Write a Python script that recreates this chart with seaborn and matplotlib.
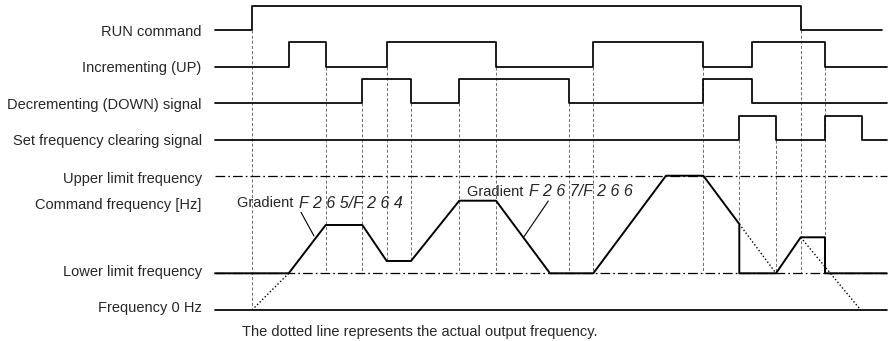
import seaborn as sns
import pandas as pd
from matplotlib import pyplot as plt

# time axis is in drawing units (roughly pixels), y grows downwards
t_start = 215
t_end = 886.7

# logic signals: label, low level, rising/falling edge times (first edge goes high)
signal_labels = ["RUN command", "Incrementing (UP)",
                 "Decrementing (DOWN) signal", "Set frequency clearing signal"]
signal_low = [30, 66.7, 103.3, 140]
signal_end = [881.7, t_end, t_end, t_end]
run_edges = [252, 800.7]
up_edges = [288.7, 325.7, 386.7, 496, 593.3, 703.3, 752, 825]
down_edges = [362.3, 411, 459.3, 569, 703.3, 752]
clear_edges = [739.3, 776, 825, 862]
pulse_height = 24.3

# frequency section
level_labels = ["Upper limit frequency", "Command frequency [Hz]",
                "Lower limit frequency", "Frequency 0 Hz"]
level_label_y = [179, 205, 271.7, 308.3]
upper_y = 175.7
lower_y = 273.3
zero_y = 310

# command frequency trace
freq_t = [215, 288.7, 325.7, 362.3, 386.7, 411, 459.3, 496, 550, 593.3,
          666, 703.3, 739.3, 739.3, 776, 800.7, 825, 825, t_end]
freq_y = [273.3, 273.3, 225, 225, 261, 261, 200.7, 200.7, 273.3, 273.3,
          175.7, 175.7, 224, 273.3, 273.3, 237.3, 237.3, 273.3, 273.3]

# actual output frequency (dotted pieces)
actual_t = [[252, 288.7], [739.3, 776], [800.7, 860.7]]
actual_y = [[310, 273.3], [224, 273.3], [237.3, 310]]

# dashed timing guides
guide_x = [252, 325.7, 362.3, 386.7, 411, 459.3, 496, 569, 593.3,
           703.3, 739.3, 776, 800.7, 825]
guide_top = [30, 66.7, 103.3, 66.7, 103.3, 103.3, 66.7, 103.3, 66.7,
             66.7, 140, 140, 30, 66.7]
guide_bottom = [308, 273.3, 273.3, 261, 261, 273.3, 273.3, 273.3, 273.3,
                273.3, 273.3, 273.3, 273.3, 273.3]

gradient_texts = ["F 2 6 5/F 2 6 4", "F 2 6 7/F 2 6 6"]
gradient_pos = [(236.7, 203.3), (466.7, 191.7)]
leader_lines = [((301, 212.3), (314, 236)), ((548.3, 201), (524, 236.7))]

footnote = "The dotted line represents the actual output frequency."

plt.rcParams["lines.scale_dashes"] = False
sns.set_style("white")
plt.rcParams["font.family"] = ["Liberation Sans", "DejaVu Sans"]

fig = plt.figure(figsize=(8.88, 3.41), dpi=100)
ax = fig.add_axes([0, 0, 1, 1])
ax.set_xlim(0, 888)
ax.set_ylim(341, 0)
ax.axis("off")

lw_sig = 1.25
fs = 10.5


def step_trace(edges, low, end):
    xs, ys = [t_start], [low]
    level = low
    for e in edges:
        new = low - pulse_height if level == low else low
        xs += [e, e]
        ys += [level, new]
        level = new
    xs.append(end)
    ys.append(level)
    return pd.DataFrame({"t": xs, "y": ys})


# guides first so they sit behind
for x, y0, y1 in zip(guide_x, guide_top, guide_bottom):
    ax.plot([x, x], [y0, y1], color="#555555", lw=0.6, ls=(0, (2.2, 1.5)), zorder=1)

all_edges = [run_edges, up_edges, down_edges, clear_edges]
for lab, low, edges, end in zip(signal_labels, signal_low, all_edges, signal_end):
    df = step_trace(edges, low, end)
    sns.lineplot(data=df, x="t", y="y", sort=False, estimator=None,
                 color="black", lw=lw_sig, ax=ax, zorder=3)
    ax.text(201.7, low + 1.5, lab, ha="right", va="center", fontsize=fs)

for lab, y in zip(level_labels, level_label_y):
    ax.text(201.7, y, lab, ha="right", va="center", fontsize=fs)

# limit lines
dashdot = (0, (7, 2.2, 1.2, 2.2))
ax.plot([t_start, t_end], [upper_y, upper_y], color="black", lw=0.9, ls=dashdot, zorder=2)
ax.plot([t_start, t_end], [lower_y, lower_y], color="black", lw=0.9, ls=dashdot, zorder=2)
ax.plot([t_start, t_end], [zero_y, zero_y], color="black", lw=lw_sig, zorder=3)

freq_df = pd.DataFrame({"t": freq_t, "y": freq_y})
sns.lineplot(data=freq_df, x="t", y="y", sort=False, estimator=None,
             color="black", lw=1.4, ax=ax, zorder=4)

for ts, ys in zip(actual_t, actual_y):
    sns.lineplot(x=ts, y=ys, sort=False, estimator=None, color="black",
                 lw=1.0, ls=(0, (1, 1.6)), ax=ax, zorder=3)

for (x, y), code in zip(gradient_pos, gradient_texts):
    t = ax.text(x, y, "Gradient ", ha="left", va="center", fontsize=fs)
    fig.canvas.draw()
    bb = t.get_window_extent().transformed(ax.transData.inverted())
    ax.text(bb.x1 + 2, y, code, ha="left", va="center", fontsize=11.5,
            style="italic", fontweight="light")

for (p0, p1) in leader_lines:
    ax.plot([p0[0], p1[0]], [p0[1], p1[1]], color="black", lw=0.8, zorder=3)

ax.text(241.7, 331.7, footnote, ha="left", va="center", fontsize=fs)

fig.savefig("out.png", dpi=100)
